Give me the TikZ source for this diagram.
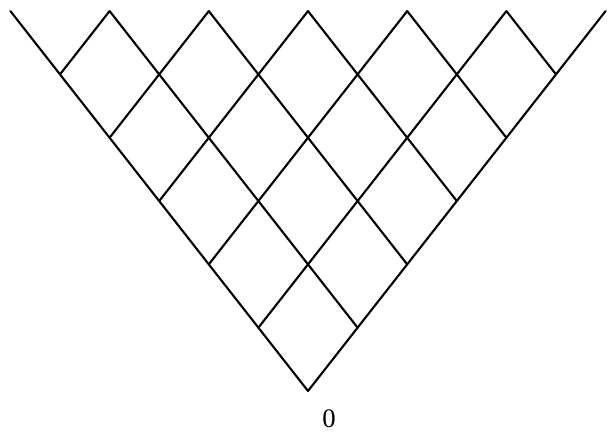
\documentclass[tikz,border=0pt]{standalone}
\usepackage{fontspec}
\setmainfont{Liberation Serif}
\usetikzlibrary{positioning}
\tikzset{
  lattice/.style={line width=1.5pt, line cap=round, line join=round},
  apexlabel/.style={font=\fontsize{19}{22}\selectfont, inner sep=0pt}
}

\begin{document}
\begin{tikzpicture}
  \useasboundingbox (0,0) rectangle (15.2,10.825);
  \coordinate (apex) at (7.7,1.05);
  % Cone lattice: x = one step up-left, y = one step up-right
  \begin{scope}[shift={(apex)}, x={(-1.24cm,1.583cm)}, y={(1.24cm,1.583cm)}]
    \foreach \i in {0,...,5} {
      \pgfmathtruncatemacro{\rim}{6-\i}
      \draw[lattice] (\i,0) -- (\i,\rim);
      \draw[lattice] (0,\i) -- (\rim,\i);
    }
  \end{scope}
  % Label under the apex
  \node[apexlabel] (zero) at (8.225,0.35) {0};
\end{tikzpicture}
\end{document}
